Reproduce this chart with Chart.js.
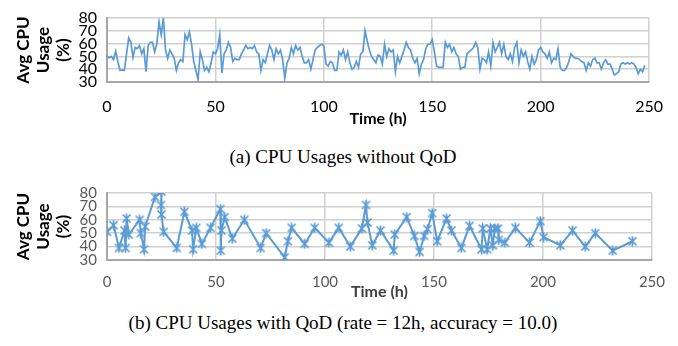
<!DOCTYPE html>
<html>
<head>
<meta charset="utf-8">
<script src="https://cdn.jsdelivr.net/npm/chart.js@4.4.1/dist/chart.umd.min.js"></script>
<style>
  body { margin: 0; background: #fff; width: 678px; height: 346px; position: relative; overflow: hidden; }
  .box { position: absolute; left: 0; width: 678px; }
  .caption { position: absolute; left: 0; width: 686px; text-align: center;
    font-family: "Liberation Serif", serif; font-size: 19px; color: #000; line-height: 20px; }
</style>
</head>
<body>
<div class="box" style="top:0;height:130px"><canvas id="noQodChart"></canvas></div>
<div class="caption" style="top:147px">(a) CPU Usages without QoD</div>
<div class="box" style="top:170px;height:135px"><canvas id="qodChart"></canvas></div>
<div class="caption" style="top:313px">(b) CPU Usages with QoD (rate = 12h, accuracy = 10.0)</div>
<script>
// hourly avg CPU usage, no QoD (hour = index)
var usageNoQod = [
  50,49,50,47.5,54,46,39,39.5,39,52,
  64.5,61,49,57,56,58.5,52,56,38,58.5,
  61,61,53.5,60,77,67,80,55,48.5,55,
  52,48.5,39,45,47.5,46,67,63,69,59.5,
  46,39,32,53.5,47.5,39,41.5,38,45,53.5,
  52,56,67,37,52,55,61,57,46,48.5,
  47.5,47.5,52,55,58.5,56,57,56,58.5,53.5,
  52,39,47.5,45,52,58.5,55,47.5,56,52,
  55,47.5,33,45,48.5,57,52,58.5,55,57,
  50,45,45,47.5,40,47.5,55,57,58.5,59.5,
  58.5,44,42.5,46,45,39,39,53.5,51,55,
  47.5,53.5,45,40,41.5,46,41.5,52,53.5,70,
  62,55,50,47.5,45,51,50,44,59.5,50,
  56,53.5,55,38,50,45,50,55,61,57,
  55,48.5,45,48.5,36.5,44,47.5,56,59.5,59.5,
  63,53.5,42.5,41.5,41.5,41.5,61,57,59.5,53.5,
  57,52,50,40,41.5,41.5,52,53.5,55,57,
  61,57,40,48.5,47.5,45,53.5,42.5,61,53.5,
  57,61,52,59.5,50,47.5,52,46,57,61,
  45,55,50,53.5,46,40,50,44,47.5,55,
  57,53.5,52,48.5,53.5,45,48.5,47.5,56,41.5,
  39,39,41.5,46,52,50,48.5,48.5,47.5,46,
  45,39,45,42.5,47.5,48.5,45,45,40,45,
  47.5,44,44,40,35.5,36.5,38,44,45,44,
  45,44,45,44,41.5,36.5,40,38,43
];

// sampled points with QoD
var qodHours = [0,3,5.5,8,8.5,9,10,15,15.5,17,17.5,22,25,24.8,25,26,32,35.5,39,39.5,41,43.5,47.5,
  52,52.2,52.5,54,57.5,63,70.5,73,81.5,83,84.7,90.7,95.3,101.8,106.3,111.6,116.9,118.8,119.5,121.7,125.5,
  131.5,132,137.5,141,143.4,145.5,147,149.2,151.5,155.8,158,162.6,166.3,171.8,172.4,174.4,175.9,177,177.9,
  179.4,179.7,182.5,187.4,193.8,198.8,200.3,208,213.6,219.4,224,232,241.1];
var qodUsage = [51,56,39,52,39,61,49,60,50,38,55,77,81,71,64,51,39,66,52,38,54,42,54,
  68,37,52,62,46,60,39,50,32,44,54,42,54,43,54,40,53.5,71,58,41,52,
  37,49,62,48,36,48,53,65,44,61,52,39,55.5,38,53.5,38,53.5,41,53.5,
  53.5,45,43,54,43,59,47,41,52,40,50,37,44];

var xTicks = [0, 50, 100, 150, 200, 250];
var yTicks = [30, 40, 50, 60, 70, 80];

var blue = '#5b9bd5';

// excel-like star marker
function starMarker() {
  var c = document.createElement('canvas');
  c.width = 11; c.height = 11;
  var g = c.getContext('2d');
  g.strokeStyle = blue;
  g.lineWidth = 1.7;
  g.beginPath();
  g.moveTo(1.5, 1.5); g.lineTo(9.5, 9.5);
  g.moveTo(9.5, 1.5); g.lineTo(1.5, 9.5);
  g.moveTo(5.5, 0.5); g.lineTo(5.5, 10.5);
  g.stroke();
  return c;
}

function makeOptions(o) {
  return {
    responsive: true,
    maintainAspectRatio: false,
    animation: false,
    layout: { padding: { left: 0, right: 26, top: o.top, bottom: 0 } },
    plugins: { legend: { display: false }, tooltip: { enabled: false } },
    scales: {
      x: {
        type: 'linear', min: 0, max: 250,
        afterBuildTicks: function (s) { s.ticks = xTicks.map(function (v) { return { value: v }; }); },
        afterFit: function (s) { s.height = o.xHeight; },
        grid: { color: '#d0d0d0', lineWidth: 1.5, drawTicks: false },
        border: { color: '#a6a6a6', width: 2 },
        ticks: { padding: o.xPad, color: o.tickColor, maxRotation: 0, autoSkip: false,
          font: { family: 'Lato', size: o.tickSize } },
        title: { display: true, text: 'Time (h)', color: o.titleColor,
          padding: { top: 0, bottom: o.titlePad },
          font: { family: 'Lato', size: 16, weight: 'bold' } }
      },
      y: {
        min: 30, max: 80,
        afterBuildTicks: function (s) { s.ticks = yTicks.map(function (v) { return { value: v }; }); },
        afterFit: function (s) { s.width = 107; },
        grid: { color: '#d0d0d0', lineWidth: 1.5, drawTicks: false },
        border: { color: '#a6a6a6', width: 2 },
        ticks: { padding: 10, color: o.tickColor, autoSkip: false,
          font: { family: 'Lato', size: o.tickSize, lineHeight: 1 } },
        title: { display: true, text: ['Avg CPU', 'Usage', '(%)'], color: '#000',
          padding: { top: 13, bottom: 0 },
          font: { family: 'Lato', size: 17, weight: 'bold', lineHeight: 1.2 } }
      }
    }
  };
}

new Chart(document.getElementById('noQodChart').getContext('2d'), {
  type: 'line',
  data: {
    datasets: [{
      data: usageNoQod.map(function (v, i) { return { x: i, y: v }; }),
      borderColor: blue,
      borderWidth: 1.7,
      pointRadius: 0,
      tension: 0,
      fill: false
    }]
  },
  options: makeOptions({ top: 13, xHeight: 48, xPad: 15, titlePad: 2,
    tickSize: 16, tickColor: '#000', titleColor: '#000' })
});

new Chart(document.getElementById('qodChart').getContext('2d'), {
  type: 'line',
  data: {
    datasets: [{
      data: qodHours.map(function (h, i) { return { x: h, y: qodUsage[i] }; }),
      borderColor: blue,
      borderWidth: 2,
      pointStyle: starMarker(),
      pointRadius: 4,
      tension: 0,
      fill: false
    }]
  },
  options: makeOptions({ top: 23, xHeight: 45, xPad: 13, titlePad: 4,
    tickSize: 15, tickColor: '#595959', titleColor: '#404040' })
});
</script>
</body>
</html>
